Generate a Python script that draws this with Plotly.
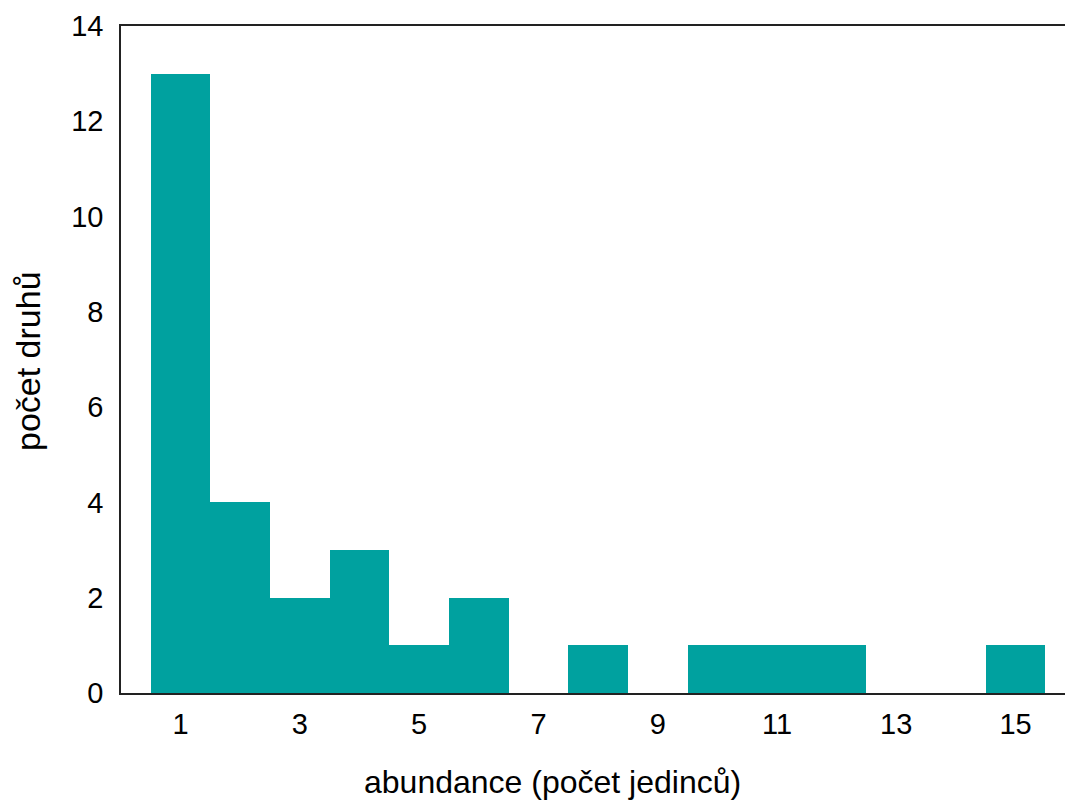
import plotly.graph_objects as go

abundance = list(range(1, 16))
species_count = [13, 4, 2, 3, 1, 2, 0, 1, 0, 1, 1, 1, 0, 0, 1]
x_ticks = [1, 3, 5, 7, 9, 11, 13, 15]
y_ticks = [0, 2, 4, 6, 8, 10, 12, 14]

FONT = "Liberation Sans, Arial, sans-serif"
W, H = 1065, 803
L, R, T, B = 121, 0, 26, 110
PW, PH = W - L - R, H - T - B

fig = go.Figure()
fig.add_trace(go.Bar(
    x=abundance, y=species_count,
    marker=dict(color="#00A19F", line=dict(width=0)),
    width=1.0,
))

fig.update_layout(
    width=W, height=H,
    margin=dict(l=L, r=R, t=T, b=B, pad=0),
    plot_bgcolor="white", paper_bgcolor="white",
    bargap=0, showlegend=False,
    font=dict(family=FONT, size=29, color="black"),
    xaxis=dict(
        range=[0, 15.83], tickvals=x_ticks, ticktext=[str(v) for v in x_ticks],
        showgrid=False, zeroline=False, showline=True, linecolor="#222",
        linewidth=1.5, mirror=True, ticks="outside", ticklen=4, tickcolor="rgba(0,0,0,0)",
        tickfont=dict(size=29), fixedrange=True,
    ),
    yaxis=dict(
        range=[0, 14], tickvals=y_ticks, ticktext=[str(v) for v in y_ticks],
        showgrid=False, zeroline=False, showline=True, linecolor="#222",
        linewidth=1.5, mirror=False, ticks="outside", ticklen=10, tickcolor="rgba(0,0,0,0)",
        tickfont=dict(size=29), fixedrange=True,
    ),
    annotations=[
        dict(text="abundance (počet jedinců)", xref="paper", yref="paper",
             x=(552 - L) / PW, y=-(782 - (H - B)) / PH,
             xanchor="center", yanchor="middle", showarrow=False,
             font=dict(size=32)),
        dict(text="počet druhů", xref="paper", yref="paper",
             x=-(L - 28) / PW, y=((H - B) - 361) / PH,
             xanchor="center", yanchor="middle", textangle=-90, showarrow=False,
             font=dict(size=34)),
    ],
)

fig.write_html(
    "out.html",
    config={"displayModeBar": False},
    post_script="document.body.style.margin='0';document.body.style.overflow='hidden';",
)
